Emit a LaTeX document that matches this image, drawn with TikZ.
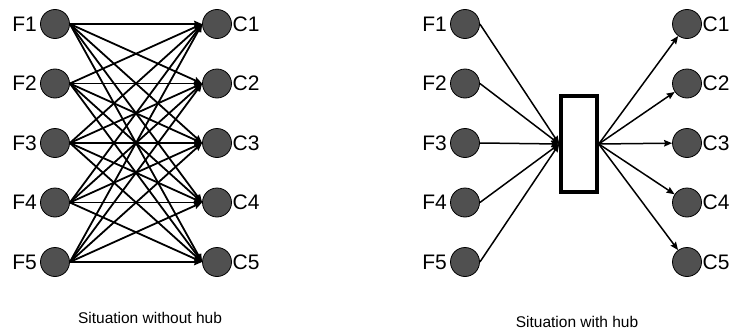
\documentclass[tikz,border=0pt]{standalone}
\usepackage{fontspec}
\setmainfont{Liberation Sans}
\usetikzlibrary{positioning,arrows.meta}
\definecolor{dotgrey}{RGB}{80,80,80}
\tikzstyle{dot} = [circle, minimum size=29pt, inner sep=0pt, fill=dotgrey, draw=black, line width=0.8pt]
\tikzstyle{lbl} = [inner sep=0pt, font=\fontsize{21}{24}\selectfont]
\tikzstyle{caption} = [anchor=base, font=\fontsize{15.5}{18}\selectfont]
\tikzstyle{hubbox} = [rectangle, minimum width=36pt, minimum height=96pt, inner sep=0pt, fill=white, draw=black, line width=3.5pt]
\tikzstyle{arrow} = [line width=1.8pt, ->, >={Stealth[length=8pt, width=6.5pt, inset=1pt]}]
\tikzstyle{thinarrow} = [line width=1.5pt, ->, >={Stealth[length=8pt, width=6.5pt, inset=1pt]}]

\begin{document}
\begin{tikzpicture}[x=1pt, y=-1pt, node distance=59.5pt]
    \useasboundingbox (0,0) rectangle (734,332);
    % without hub
    \node(f1) [dot] at (55,24) {};
    \node(f2) [dot, below of=f1] {};
    \node(f3) [dot, below of=f2] {};
    \node(f4) [dot, below of=f3] {};
    \node(f5) [dot, below of=f4] {};
    \node(c1) [dot] at (217,24) {};
    \node(c2) [dot, below of=c1] {};
    \node(c3) [dot, below of=c2] {};
    \node(c4) [dot, below of=c3] {};
    \node(c5) [dot, below of=c4] {};
    \foreach \i in {1,...,5} {
        \node(f\i l) [lbl, left=3pt of f\i] {F\i};
        \node(c\i l) [lbl, right=0.5pt of c\i] {C\i};
        \foreach \j in {1,...,5}
            \draw[arrow] (f\i.east) -- (c\j.west);
    }
    \node(cap1) [caption] at (150,323) {Situation without hub};
    % with hub
    \node(hub) [hubbox] at (579,144) {};
    \node(hf1) [dot] at (465,24) {};
    \node(hf2) [dot, below of=hf1] {};
    \node(hf3) [dot, below of=hf2] {};
    \node(hf4) [dot, below of=hf3] {};
    \node(hf5) [dot, below of=hf4] {};
    \node(hc1) [dot] at (687,24) {};
    \node(hc2) [dot, below of=hc1] {};
    \node(hc3) [dot, below of=hc2] {};
    \node(hc4) [dot, below of=hc3] {};
    \node(hc5) [dot, below of=hc4] {};
    \foreach \i in {1,...,5} {
        \node(hf\i l) [lbl, left=3pt of hf\i] {F\i};
        \node(hc\i l) [lbl, right=0.5pt of hc\i] {C\i};
        \draw[thinarrow] (hf\i.east) -- (hub.west);
        \draw[thinarrow] (hub.east) -- (hc\i);
    }
    \node(cap2) [caption] at (577,327) {Situation with hub};
\end{tikzpicture}
\end{document}
